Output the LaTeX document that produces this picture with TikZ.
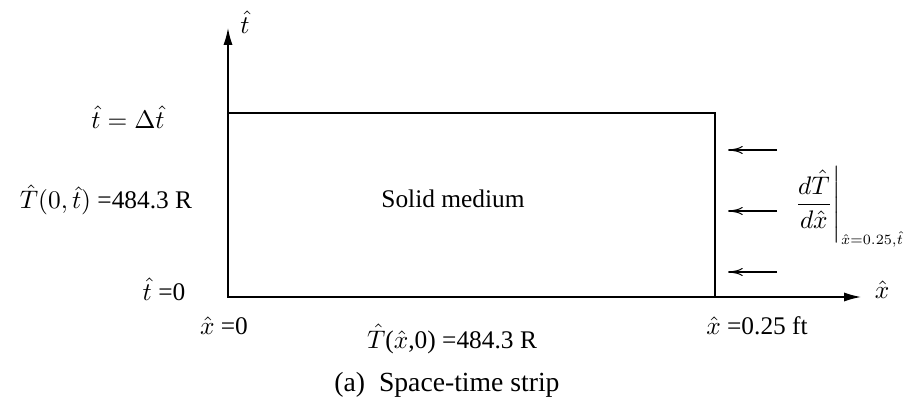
\documentclass[tikz,border=0pt]{standalone}
\usepackage[no-math]{fontspec}
\setmainfont{Liberation Serif}
\usetikzlibrary{arrows.meta}
\begin{document}
\begin{tikzpicture}[x=0.394pt,y=-0.394pt,
  lbl/.style={inner sep=0pt,outer sep=0pt},
  axis/.style={line width=0.55pt,-{Latex[length=6.7pt,width=3.6pt]}},
  flux/.style={line width=0.4pt,-{To[length=5.8pt,width=3.2pt]}},
  strip/.style={line width=1pt}]
\useasboundingbox (0,0) rectangle (908,405);
\coordinate (O) at (228,297);
\coordinate (R) at (715,297);
\coordinate (TL) at (228,113);
\coordinate (TR) at (715,113);
\coordinate (tend) at (228,28);
\coordinate (xend) at (861,297);
\draw[axis] (O) -- (tend);
\draw[axis] (R) -- (xend);
\draw[strip] (O) -- (TL) -- (TR) -- (R) -- cycle;
\node[lbl] (tlab) at (245,22) {$\hat t$};
\node[lbl] (xlab) at (882,290) {$\hat x$};
\node[lbl] (tdt) at (128,117) {$\hat t=\Delta\hat t$};
\node[lbl] (bcl) at (106,200) {$\hat T(0,\hat t)$ =484.3 R};
\node[lbl] (t0) at (164,289) {$\hat t$ =0};
\node[lbl] (x0) at (224,326) {$\hat x$ =0};
\node[lbl] (ic) at (452,339) {$\hat T$($\hat x$,0) =484.3 R};
\node[lbl] (xl) at (757,326) {$\hat x$ =0.25 ft};
\node[lbl,font=\fontsize{10.9}{13}\selectfont] (cap) at (447,385) {(a)\ \ Space-time strip};
\node[lbl] (med) at (453,199) {Solid medium};
\node[lbl,anchor=west] (der) at (792,207) {$\displaystyle\left.\frac{d\hat T}{d\hat x}\right|_{\scalebox{0.8}{$\scriptstyle\hat x=0.25,\hat t$}}$};
\coordinate (a1s) at (777,150); \coordinate (a1e) at (728,150);
\coordinate (a2s) at (777,211); \coordinate (a2e) at (728,211);
\coordinate (a3s) at (777,272); \coordinate (a3e) at (728,272);
\draw[flux] (a1s) -- (a1e);
\draw[flux] (a2s) -- (a2e);
\draw[flux] (a3s) -- (a3e);
\end{tikzpicture}
\end{document}
